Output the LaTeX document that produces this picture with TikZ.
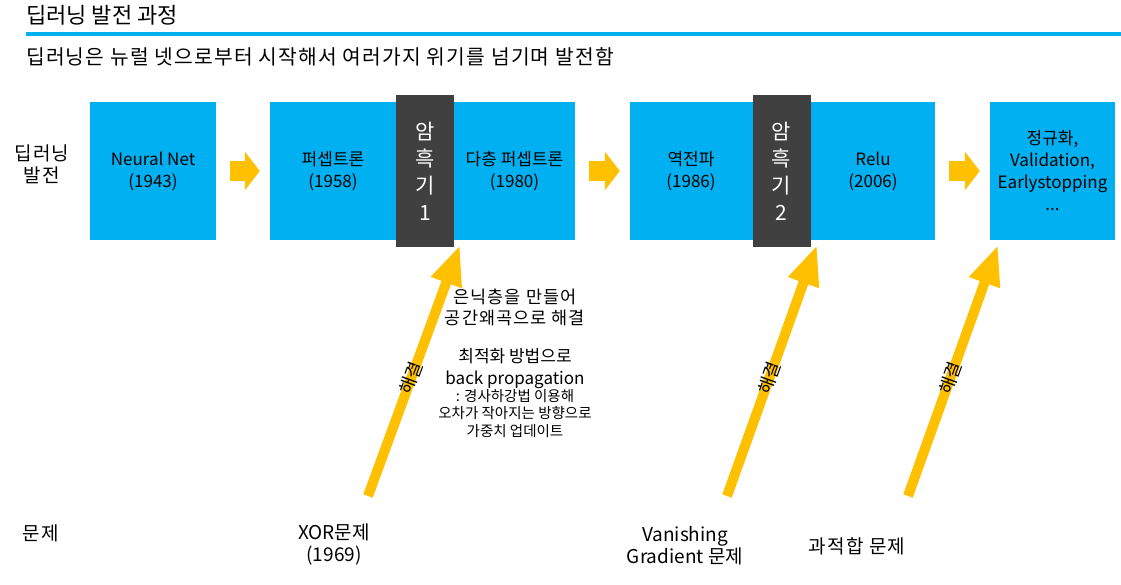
\documentclass[tikz,border=0pt]{standalone}
\usepackage{fontspec}
\setmainfont{Noto Sans CJK KR}
\newfontfamily\hangul{Noto Sans CJK KR}[LetterSpace=6]
\usepackage{xcolor}
\usepackage{tikz}
\usetikzlibrary{arrows.meta,positioning}
\definecolor{eraBlue}{RGB}{0,176,240}
\definecolor{winterGray}{RGB}{64,64,64}
\definecolor{stepGold}{RGB}{255,192,0}

\tikzset{
  era/.style={fill=eraBlue,minimum height=138pt,inner sep=0pt},
  winter/.style={fill=winterGray,text=white,minimum width=58pt,minimum height=152pt,
    inner sep=0pt,align=center,font=\fontsize{21}{27}\selectfont},
  eratext/.style={align=center,inner sep=0pt,font=\fontsize{17}{22}\selectfont},
  nextstep/.style={stepGold,line width=20pt,-{Triangle[length=15pt,width=38pt]}},
  solved/.style={stepGold,line width=10pt,-{Triangle[length=40pt,width=30pt]}},
  rowlabel/.style={align=center,inner sep=0pt,font=\hangul\fontsize{19}{22}\selectfont},
  problabel/.style={align=center,inner sep=0pt,font=\fontsize{19}{22}\selectfont}
}

\begin{document}
\begin{tikzpicture}[x=1pt,y=-1pt]
    \useasboundingbox (0,0) rectangle (1121,585);

    % Heading
    \node[anchor=west,inner sep=0pt,font=\fontsize{22}{26}\selectfont] (title) at (26,15) {딥러닝 발전 과정};
    \draw[eraBlue,line width=4pt] (26,34) -- (1121,34);
    \node[anchor=west,inner sep=0pt,font=\hangul\fontsize{20.3}{22}\selectfont] (lead) at (26,57) {딥러닝은 뉴럴 넷으로부터 시작해서 여러가지 위기를 넘기며 발전함};

    % Row labels
    \node[rowlabel] (rowDev) at (42,164) {딥러닝\\발전};
    \node[rowlabel] (rowProb) at (41,533) {문제};

    % Eras
    \node[era,eratext,minimum width=126pt] (nn) at (153,171) {Neural Net\\(1943)};
    \node[era,minimum width=305pt] (percBox) at (422.5,171) {};
    \node[eratext] (perc) at (333,171) {퍼셉트론\\(1958)};
    \node[eratext] (mlp) at (514.5,171) {다층 퍼셉트론\\(1980)};
    \node[winter] (dark1) at (425,171) {암\\흑\\기\\1};
    \node[era,minimum width=305pt] (bpBox) at (782.5,171) {};
    \node[eratext] (bp) at (691,171) {역전파\\(1986)};
    \node[eratext] (relu) at (873,171) {Relu\\(2006)};
    \node[winter] (dark2) at (781.5,171) {암\\흑\\기\\2};
    \node[era,eratext,minimum width=125pt] (reg) at (1052.5,171) {정규화,\\Validation,\\Earlystopping\\...};

    % Steps between eras
    \draw[nextstep] ([xshift=14pt]nn.east) -- ([xshift=-10pt]percBox.west);
    \draw[nextstep] ([xshift=14pt]percBox.east) -- ([xshift=-10pt]bpBox.west);
    \draw[nextstep] ([xshift=14pt]bpBox.east) -- ([xshift=-10pt]reg.west);

    % Problems
    \node[problabel] (xor) at (334,545) {XOR문제\\(1969)};
    \node[problabel] (vanish) at (685,546) {Vanishing\\Gradient 문제};
    \node[rowlabel] (overfit) at (857,546) {과적합 문제};

    % Solutions
    \coordinate (xorTail) at (368,496);
    \coordinate (xorFix) at (460,245);
    \coordinate (vanishTail) at (727,496);
    \coordinate (vanishFix) at (817,245);
    \coordinate (overfitTail) at (908,496);
    \coordinate (overfitFix) at (998,245);
    \draw[solved] (xorTail) -- node[sloped,pos=0.47,inner sep=0pt,text=black,font=\fontsize{18}{20}\selectfont] (sol1) {해결} (xorFix);
    \draw[solved] (vanishTail) -- node[sloped,pos=0.47,inner sep=0pt,text=black,font=\fontsize{18}{20}\selectfont] (sol2) {해결} (vanishFix);
    \draw[solved] (overfitTail) -- node[sloped,pos=0.47,inner sep=0pt,text=black,font=\fontsize{18}{20}\selectfont] (sol3) {해결} (overfitFix);

    % Notes on the first fix
    \node[eratext,font=\hangul\fontsize{17.5}{21}\selectfont] (hidden) at (515,307.5) {은닉층을 만들어\\공간왜곡으로 해결};
    \node[eratext,font=\fontsize{17}{22}\selectfont] (optim) at (515,369) {최적화 방법으로\\back propagation};
    \node[eratext,font=\fontsize{14.5}{17.5}\selectfont] (gdNote) at (515,413.5) {: 경사하강법 이용해\\오차가 작아지는 방향으로\\가중치 업데이트};
\end{tikzpicture}
\end{document}
